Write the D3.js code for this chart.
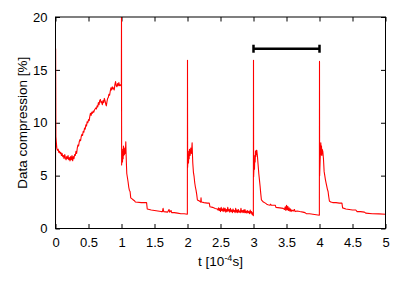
<!DOCTYPE html>
<html>
<head>
<meta charset="utf-8">
<script src="https://cdn.jsdelivr.net/npm/d3@7"></script>
<style>
  body { margin: 0; background: #fff; }
  text { font-family: "Liberation Sans", Arial, sans-serif; fill: #000; }
</style>
</head>
<body>
<div id="chart"></div>
<script>
// values, one array per injection period: [t, %]
var period0 = [[0, 0], [0.002, 17.0], [0.006, 8.7], [0.012, 8.2], [0.02, 7.6], [0.03, 7.4], [0.04, 7.5], [0.05, 7.2], [0.06, 7.3], [0.07, 7.1], [0.08, 7.2], [0.09, 6.9], [0.10, 7.1], [0.11, 6.8], [0.12, 6.9], [0.13, 6.6], [0.14, 7.0], [0.15, 6.7], [0.16, 6.5], [0.17, 6.8], [0.18, 6.6], [0.19, 6.9], [0.20, 6.5], [0.21, 6.7], [0.22, 6.4], [0.23, 6.8], [0.24, 6.5], [0.25, 6.9], [0.26, 6.4], [0.27, 6.8], [0.28, 6.6], [0.29, 7.0], [0.30, 6.9], [0.31, 7.3], [0.32, 7.1], [0.33, 7.6], [0.34, 7.9], [0.35, 7.8], [0.36, 8.2], [0.37, 8.4], [0.38, 8.3], [0.39, 8.7], [0.40, 8.9], [0.41, 8.8], [0.42, 9.2], [0.43, 9.1], [0.44, 9.5], [0.45, 9.4], [0.46, 9.8], [0.47, 9.7], [0.48, 10.1], [0.49, 10.0], [0.50, 10.3], [0.51, 10.2], [0.52, 10.6], [0.53, 10.9], [0.54, 10.7], [0.55, 11.0], [0.56, 10.9], [0.57, 11.1], [0.58, 11.0], [0.59, 11.2], [0.60, 11.3], [0.61, 11.4], [0.62, 11.3], [0.63, 11.6], [0.64, 11.5], [0.65, 11.9], [0.66, 11.7], [0.67, 12.1], [0.68, 12.2], [0.69, 11.9], [0.70, 12.0], [0.71, 11.7], [0.72, 12.1], [0.73, 11.9], [0.74, 12.3], [0.75, 12.1], [0.76, 11.8], [0.77, 11.6], [0.78, 12.0], [0.79, 12.3], [0.80, 12.4], [0.81, 12.7], [0.82, 12.6], [0.83, 13.0], [0.84, 13.3], [0.85, 13.1], [0.86, 13.4], [0.87, 13.2], [0.88, 13.3], [0.89, 13.1], [0.90, 13.6], [0.91, 13.9], [0.92, 13.5], [0.93, 13.4], [0.94, 13.7], [0.95, 13.5], [0.96, 13.8], [0.97, 13.5], [0.98, 13.6], [0.99, 13.5], [0.998, 13.6]];

var period1 = [[1.0, 20.5], [1.002, 6.0], [1.01, 7.2], [1.015, 6.3], [1.02, 7.5], [1.025, 6.6], [1.03, 7.8], [1.035, 6.9], [1.04, 7.3], [1.045, 7.0], [1.05, 7.6], [1.055, 7.1], [1.06, 7.4], [1.065, 8.2], [1.07, 7.0], [1.075, 6.0], [1.08, 5.2], [1.09, 4.8], [1.10, 4.4], [1.11, 3.9], [1.12, 3.6], [1.13, 3.5], [1.14, 2.9], [1.16, 2.8], [1.18, 2.7], [1.20, 2.6], [1.21, 2.5], [1.30, 2.45], [1.38, 2.45], [1.39, 1.85], [1.45, 1.75], [1.50, 1.7], [1.55, 1.65], [1.60, 1.6], [1.62, 1.6], [1.63, 1.9], [1.64, 1.6], [1.70, 1.55], [1.72, 1.8], [1.73, 1.55], [1.75, 1.7], [1.76, 1.5], [1.80, 1.5], [1.85, 1.45], [1.90, 1.4], [1.95, 1.4], [1.998, 1.35]];

var period2 = [[2.0, 15.9], [2.002, 5.8], [2.01, 7.0], [2.015, 6.2], [2.02, 7.3], [2.025, 6.6], [2.03, 7.5], [2.04, 6.9], [2.05, 7.6], [2.06, 7.1], [2.07, 8.1], [2.075, 7.0], [2.08, 6.2], [2.09, 5.3], [2.10, 4.9], [2.11, 4.3], [2.12, 3.9], [2.13, 3.6], [2.14, 3.2], [2.15, 2.7], [2.18, 2.6], [2.20, 2.5], [2.205, 2.9], [2.21, 2.5], [2.25, 2.45], [2.30, 2.4], [2.33, 2.4], [2.34, 2.05], [2.38, 2.0], [2.42, 1.9], [2.45, 1.85], [2.46, 1.75], [2.47, 1.95], [2.48, 1.7], [2.49, 1.9], [2.50, 1.6], [2.51, 2.0], [2.52, 1.7], [2.53, 1.85], [2.54, 1.6], [2.55, 1.95], [2.56, 1.65], [2.57, 1.9], [2.58, 1.55], [2.59, 1.8], [2.60, 1.6], [2.61, 2.0], [2.62, 1.65], [2.63, 1.8], [2.64, 1.55], [2.65, 1.9], [2.66, 1.6], [2.67, 1.75], [2.68, 1.5], [2.69, 1.85], [2.70, 1.6], [2.71, 1.7], [2.72, 1.5], [2.73, 1.9], [2.74, 1.55], [2.75, 1.75], [2.76, 1.5], [2.77, 1.8], [2.78, 1.55], [2.79, 1.65], [2.80, 1.5], [2.81, 1.9], [2.82, 1.55], [2.83, 1.7], [2.84, 1.5], [2.85, 1.75], [2.86, 1.5], [2.87, 1.8], [2.88, 1.5], [2.89, 1.65], [2.90, 1.45], [2.91, 1.7], [2.92, 1.5], [2.93, 1.6], [2.94, 1.4], [2.95, 1.75], [2.96, 1.45], [2.97, 1.6], [2.98, 1.3], [2.99, 1.5], [2.998, 1.2]];

var period3 = [[3.0, 15.9], [3.002, 4.9], [3.01, 6.2], [3.015, 5.6], [3.02, 6.9], [3.025, 6.3], [3.03, 7.3], [3.035, 6.8], [3.04, 7.4], [3.045, 7.0], [3.05, 7.4], [3.06, 6.8], [3.07, 6.0], [3.08, 5.2], [3.09, 4.6], [3.10, 4.0], [3.11, 3.3], [3.12, 2.7], [3.15, 2.5], [3.18, 2.4], [3.20, 2.3], [3.22, 2.25], [3.25, 2.2], [3.26, 2.3], [3.27, 2.2], [3.33, 2.2], [3.34, 2.0], [3.40, 1.95], [3.45, 1.9], [3.47, 1.8], [3.48, 2.05], [3.49, 1.7], [3.50, 2.2], [3.51, 1.75], [3.52, 2.1], [3.53, 1.7], [3.54, 1.95], [3.55, 1.65], [3.56, 1.85], [3.57, 1.6], [3.58, 1.75], [3.60, 1.65], [3.62, 1.8], [3.63, 1.6], [3.66, 1.65], [3.70, 1.6], [3.75, 1.55], [3.78, 1.5], [3.80, 1.4], [3.85, 1.4], [3.90, 1.35], [3.95, 1.3], [3.998, 1.25]];

var period4 = [[4.0, 15.8], [4.002, 5.0], [4.01, 6.5], [4.015, 7.4], [4.02, 8.1], [4.025, 7.0], [4.03, 7.8], [4.035, 6.9], [4.04, 7.5], [4.05, 7.3], [4.06, 6.6], [4.07, 5.4], [4.08, 5.0], [4.09, 4.6], [4.10, 4.3], [4.12, 3.7], [4.13, 3.5], [4.14, 3.0], [4.15, 2.6], [4.17, 2.5], [4.20, 2.45], [4.25, 2.45], [4.30, 2.4], [4.34, 2.4], [4.35, 1.95], [4.40, 1.85], [4.45, 1.8], [4.50, 1.75], [4.55, 1.75], [4.57, 1.6], [4.62, 1.6], [4.68, 1.55], [4.70, 1.45], [4.80, 1.4], [4.90, 1.38], [5.0, 1.35]];

var xTicks = [0, 0.5, 1, 1.5, 2, 2.5, 3, 3.5, 4, 4.5, 5];
var yTicks = [0, 5, 10, 15, 20];
var periodBar = [3, 4];   // marked interval
var periodBarLevel = 17;

var svgWidth = 407;
var svgHeight = 285;
var margin = { top: 17, right: 21.5, bottom: 56.5, left: 55.5 };
var width = svgWidth - margin.left - margin.right;
var height = svgHeight - margin.top - margin.bottom;

var svg = d3.select("#chart")
    .append("svg")
    .attr("width", svgWidth)
    .attr("height", svgHeight);

var chart = svg.append("g")
    .attr("transform", `translate(${margin.left}, ${margin.top})`);

var x = d3.scaleLinear().domain([0, 5]).range([0, width]);
var y = d3.scaleLinear().domain([0, 20]).range([height, 0]);

chart.append("clipPath")
    .attr("id", "plotArea")
    .append("rect")
    .attr("width", width)
    .attr("height", height);

// ticks point inward on all four sides, labels only bottom / left
function styleAxis(g) {
    g.select(".domain").remove();
    g.selectAll(".tick line").attr("stroke", "#000");
    g.selectAll(".tick text")
        .style("font-size", "13px")
        .style("font-family", "'Liberation Sans', Arial, sans-serif")
        .attr("fill", "#000");
}

chart.append("g")
    .attr("transform", `translate(0, ${height})`)
    .call(d3.axisBottom(x).tickValues(xTicks).tickSize(-4.5).tickPadding(9).tickFormat(d3.format("")))
    .call(styleAxis);

chart.append("g")
    .call(d3.axisTop(x).tickValues(xTicks).tickSize(-4.5).tickFormat(""))
    .call(styleAxis);

chart.append("g")
    .call(d3.axisLeft(y).tickValues(yTicks).tickSize(-4.5).tickPadding(8))
    .call(styleAxis);

chart.append("g")
    .attr("transform", `translate(${width}, 0)`)
    .call(d3.axisRight(y).tickValues(yTicks).tickSize(-4.5).tickFormat(""))
    .call(styleAxis);

var samples = period0.concat(period1, period2, period3, period4);

var line = d3.line()
    .x(function (d) { return x(d[0]); })
    .y(function (d) { return y(d[1]); });

chart.append("path")
    .datum(samples)
    .attr("clip-path", "url(#plotArea)")
    .attr("fill", "none")
    .attr("stroke", "#ff0000")
    .attr("stroke-width", 1.1)
    .attr("stroke-linejoin", "round")
    .attr("d", line);

// interval bar with end caps
var bar = chart.append("g").attr("stroke", "#000").attr("stroke-width", 2.5);
bar.append("line")
    .attr("x1", x(periodBar[0])).attr("x2", x(periodBar[1]))
    .attr("y1", y(periodBarLevel)).attr("y2", y(periodBarLevel));
periodBar.forEach(function (t) {
    bar.append("line")
        .attr("x1", x(t)).attr("x2", x(t))
        .attr("y1", y(periodBarLevel) - 4).attr("y2", y(periodBarLevel) + 4);
});

// frame
chart.append("rect")
    .attr("width", width)
    .attr("height", height)
    .attr("fill", "none")
    .attr("stroke", "#000")
    .attr("stroke-width", 1);

// Text for y-axis
chart.append("text")
    .attr("transform", `translate(${27 - margin.left}, ${height / 2}) rotate(-90)`)
    .style("text-anchor", "middle")
    .style("font-size", "13.5px")
    .text("Data compression [%]");

// Text for x-axis
var xLabel = chart.append("text")
    .attr("transform", `translate(${width / 2}, ${266 - margin.top})`)
    .style("text-anchor", "middle")
    .style("font-size", "13.5px");
xLabel.append("tspan").text("t [10");
xLabel.append("tspan").attr("dy", -5).style("font-size", "9px").text("-4");
xLabel.append("tspan").attr("dy", 5).text("s]");
</script>
</body>
</html>
